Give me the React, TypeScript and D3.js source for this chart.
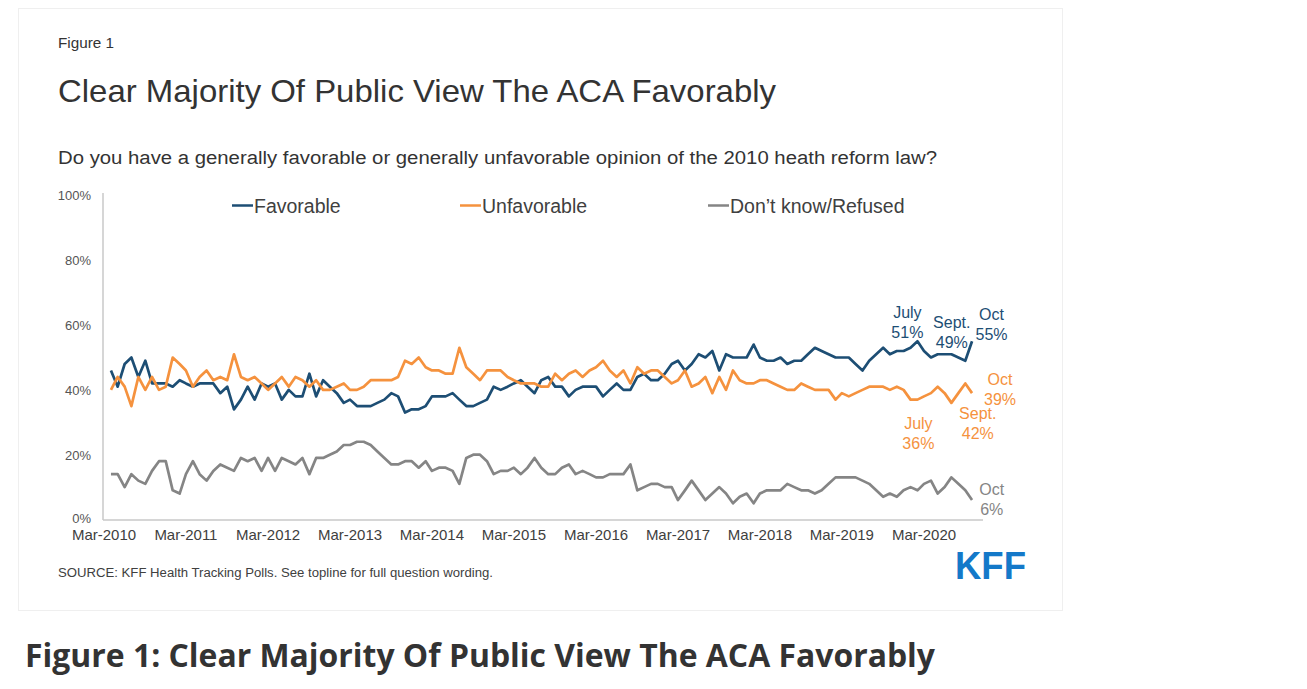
import React from "react";
import * as d3 from "d3";

const pollDates = [
  "2010-04","2010-05","2010-06","2010-07","2010-08","2010-09","2010-10","2010-11","2010-12",
  "2011-01","2011-02","2011-03","2011-04","2011-05","2011-06","2011-07","2011-08","2011-09","2011-10","2011-11","2011-12",
  "2012-01","2012-02","2012-03","2012-04","2012-05","2012-06","2012-07","2012-08","2012-09","2012-10","2012-11","2012-12",
  "2013-01","2013-02","2013-03","2013-04","2013-05","2013-06","2013-07","2013-08","2013-09","2013-10","2013-11","2013-12",
  "2014-01","2014-02","2014-03","2014-04","2014-05","2014-06","2014-07","2014-08","2014-09","2014-10","2014-11","2014-12",
  "2015-01","2015-02","2015-03","2015-04","2015-05","2015-06","2015-07","2015-08","2015-09","2015-10","2015-11","2015-12",
  "2016-01","2016-02","2016-03","2016-04","2016-05","2016-06","2016-07","2016-08","2016-09","2016-10","2016-11","2016-12",
  "2017-01","2017-02","2017-03","2017-04","2017-05","2017-06","2017-07","2017-08","2017-09","2017-10","2017-11","2017-12",
  "2018-01","2018-02","2018-03","2018-04","2018-05","2018-06","2018-07","2018-08","2018-09","2018-10","2018-11","2018-12",
  "2019-01","2019-02","2019-03","2019-04","2019-05","2019-06","2019-07","2019-08","2019-09","2019-10","2019-11","2019-12",
  "2020-01","2020-02","2020-03","2020-04","2020-05","2020-06","2020-07","2020-08","2020-09","2020-10",
];

const favorable = [
  46,41,48,50,44,49,42,42,42,41,
  43,42,41,42,42,42,39,41,34,37,
  41,37,42,41,42,37,40,38,38,45,
  38,43,41,39,36,37,35,35,35,36,
  37,39,38,33,34,34,35,38,38,38,
  39,37,35,35,36,37,41,40,41,42,
  43,41,39,43,44,41,41,38,40,41,
  41,41,38,40,42,40,40,44,45,43,
  43,45,48,49,46,48,51,50,52,46,
  51,50,50,50,54,50,49,49,50,48,
  49,49,51,53,52,51,50,50,50,48,
  46,49,51,53,51,52,52,53,55,52,
  50,51,51,51,50,49,55,
];

const unfavorable = [
  40,44,41,35,44,40,44,40,41,50,
  48,46,41,44,46,43,44,43,51,44,
  43,44,42,40,42,44,41,44,43,41,
  43,40,40,41,42,40,40,41,43,43,
  43,43,44,49,48,50,47,46,46,45,
  45,53,47,45,43,46,46,46,44,43,
  42,42,42,41,41,45,43,45,46,44,
  46,47,49,46,44,46,42,47,45,46,
  46,44,42,43,46,41,42,44,39,44,
  40,46,43,42,42,43,43,42,41,40,
  40,42,41,40,40,40,37,39,38,39,
  40,41,41,41,40,41,40,37,37,38,
  39,41,39,36,39,42,39,
];

const dontKnow = [
  14,14,10,14,12,11,15,18,18,9,
  8,14,18,14,12,15,17,16,15,19,
  18,19,15,19,15,19,18,17,19,14,
  19,19,20,21,23,23,24,24,23,21,
  19,17,17,18,18,16,18,15,16,16,
  15,11,19,20,20,18,14,15,15,16,
  14,16,19,16,14,14,16,17,14,15,
  14,13,13,14,14,14,17,9,10,11,
  11,10,10,6,9,12,9,6,8,10,
  8,5,7,8,5,8,9,9,9,11,
  10,9,9,8,9,11,13,13,13,13,
  12,11,9,7,8,7,9,10,9,11,
  12,8,10,13,11,9,6,
];

const xTickLabels = [
  "Mar-2010","Mar-2011","Mar-2012","Mar-2013","Mar-2014","Mar-2015",
  "Mar-2016","Mar-2017","Mar-2018","Mar-2019","Mar-2020",
];
const yTicks = [0, 20, 40, 60, 80, 100];

const seriesNames = ["Favorable", "Unfavorable", "Don\u2019t know/Refused"];
const seriesColors = ["#1d4e74", "#f5923e", "#858585"];

const annotations = [
  { series: 0, lines: ["July", "51%"], date: "2020-07" },
  { series: 0, lines: ["Sept.", "49%"], date: "2020-09" },
  { series: 0, lines: ["Oct", "55%"], date: "2020-10" },
  { series: 1, lines: ["Oct", "39%"], date: "2020-10" },
  { series: 1, lines: ["Sept.", "42%"], date: "2020-09" },
  { series: 1, lines: ["July", "36%"], date: "2020-07" },
  { series: 2, lines: ["Oct", "6%"], date: "2020-10" },
];
// label offsets (px) of the first text baseline relative to the data point
const annoOffsets = [
  [-44, -36], [-13.5, -33], [19.5, -21],
  [28, -8.6], [12.5, 36], [-33, 26.6],
  [19.7, -5.5],
];

const FONT = "'Liberation Sans', Arial, sans-serif";

export default function App() {
  const parse = d3.timeParse("%Y-%m");
  const dates = pollDates.map((s) => parse(s) as Date);
  const parseTick = d3.timeParse("%b-%Y");

  const x = d3
    .scaleTime()
    .domain([new Date(2010, 2, 1), new Date(2020, 2, 1)])
    .range([104, 924]);
  const y = d3.scaleLinear().domain([0, 100]).range([519.5, 195.5]);

  const allSeries = [favorable, unfavorable, dontKnow];
  const line = d3
    .line<number>()
    .x((_, i) => x(dates[i]))
    .y((d) => y(d));

  const legendX = [232, 460, 708];

  return (
    <svg
      width={1307}
      height={689}
      style={{ position: "absolute", left: 0, top: 0, background: "#fff" }}
      fontFamily={FONT}
    >
      <rect x={0} y={0} width={1307} height={689} fill="#fff" />
      <rect x={18.5} y={8.5} width={1044} height={602} fill="none" stroke="#efefef" strokeWidth={1} />

      <text x={58} y={48} fontSize={14} fill="#333" textLength={56} lengthAdjust="spacingAndGlyphs">Figure 1</text>
      <text x={58} y={102} fontSize={32} fill="#333" textLength={718} lengthAdjust="spacingAndGlyphs">
        Clear Majority Of Public View The ACA Favorably
      </text>
      <text x={58} y={163.5} fontSize={18} fill="#333" textLength={879} lengthAdjust="spacingAndGlyphs">
        Do you have a generally favorable or generally unfavorable opinion of the 2010 heath reform law?
      </text>

      {/* axes */}
      <line x1={103} x2={103} y1={193} y2={520} stroke="#c8c8c8" strokeWidth={1.5} />
      <line x1={103} x2={983} y1={520} y2={520} stroke="#c8c8c8" strokeWidth={1.5} />

      {yTicks.map((t) => (
        <text key={t} x={91} y={y(t) + (t === 0 ? 3.5 : 4.8)} fontSize={13} fill="#555" textAnchor="end">
          {t}%
        </text>
      ))}
      {xTickLabels.map((l) => (
        <text key={l} x={x(parseTick(l) as Date)} y={539.5} fontSize={15} fill="#404040" textAnchor="middle">
          {l}
        </text>
      ))}

      {/* legend */}
      {seriesNames.map((n, i) => (
        <g key={n}>
          <line x1={legendX[i]} x2={legendX[i] + 21} y1={205.5} y2={205.5} stroke={seriesColors[i]} strokeWidth={2.5} />
          <text x={legendX[i] + 22} y={212.5} fontSize={19.5} fill="#404040">{n}</text>
        </g>
      ))}

      {/* lines */}
      {allSeries.map((s, i) => (
        <path key={i} d={line(s) || ""} fill="none" stroke={seriesColors[i]} strokeWidth={2.7} strokeLinejoin="round" />
      ))}

      {/* annotations */}
      {annotations.map((a, k) => {
        const idx = pollDates.indexOf(a.date);
        const px = x(dates[idx]) + annoOffsets[k][0];
        const py = y(allSeries[a.series][idx]) + annoOffsets[k][1];
        return (
          <text key={k} x={px} y={py} fontSize={16} fill={seriesColors[a.series]} textAnchor="middle">
            {a.lines.map((t, j) => (
              <tspan key={j} x={px} dy={j === 0 ? 0 : 20}>{t}</tspan>
            ))}
          </text>
        );
      })}

      <text x={58} y={577} fontSize={12} fill="#404040" textLength={435} lengthAdjust="spacingAndGlyphs">
        SOURCE: KFF Health Tracking Polls. See topline for full question wording.
      </text>
      <text x={955} y={579} fontSize={38} fontWeight={900} fill="#1479c9" textLength={71} lengthAdjust="spacingAndGlyphs">
        KFF
      </text>

      <text x={25} y={667} fontSize={32} fontWeight={700} fill="#333" fontFamily="'Open Sans', sans-serif" textLength={910} lengthAdjust="spacingAndGlyphs">
        Figure 1: Clear Majority Of Public View The ACA Favorably
      </text>
    </svg>
  );
}
